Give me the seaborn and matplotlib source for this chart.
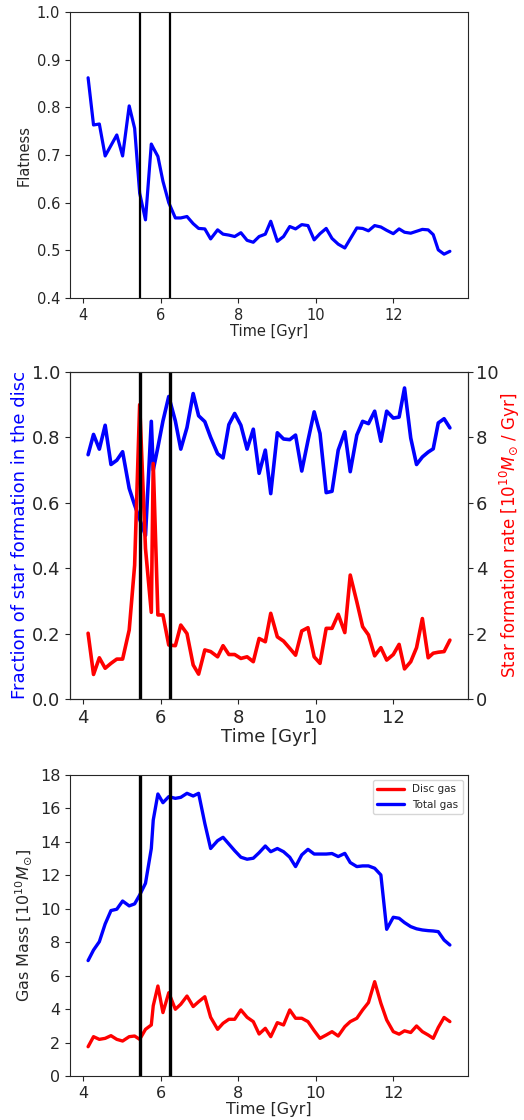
import numpy as np
import pandas as pd
import matplotlib
matplotlib.use("Agg")
import matplotlib.pyplot as plt
import seaborn as sns

# Zeitachse (Gyr), gemeinsam fuer alle drei Panels
time = [4.13, 4.27, 4.42, 4.57, 4.72, 4.87, 5.02, 5.19, 5.33, 5.46, 5.61, 5.76, 5.81,
        5.93, 6.06, 6.21, 6.38, 6.52, 6.68, 6.84, 6.98, 7.14, 7.29, 7.47, 7.61, 7.76,
        7.91, 8.07, 8.23, 8.39, 8.54, 8.70, 8.84, 9.01, 9.17, 9.33, 9.48, 9.64, 9.80,
        9.96, 10.11, 10.27, 10.42, 10.58, 10.75, 10.89, 11.06, 11.21, 11.36, 11.52,
        11.68, 11.83, 12.00, 12.15, 12.29, 12.45, 12.60, 12.75, 12.90, 13.03, 13.16,
        13.31, 13.46]

flatness = [0.862, 0.763, 0.765, 0.698, 0.72, 0.742, 0.698, 0.803, 0.756, 0.62, 0.564,
            0.723, 0.715, 0.697, 0.645, 0.60, 0.568, 0.568, 0.571, 0.556, 0.546, 0.545,
            0.524, 0.543, 0.534, 0.532, 0.529, 0.537, 0.521, 0.517, 0.529, 0.534, 0.561,
            0.519, 0.529, 0.55, 0.545, 0.554, 0.552, 0.522, 0.535, 0.546, 0.525, 0.513,
            0.505, 0.524, 0.547, 0.546, 0.541, 0.552, 0.549, 0.542, 0.535, 0.545, 0.538,
            0.536, 0.54, 0.544, 0.543, 0.533, 0.501, 0.492, 0.498]

sf_fraction = [0.747, 0.809, 0.764, 0.837, 0.717, 0.73, 0.756, 0.644, 0.593, 0.55, 0.50,
               0.849, 0.70, 0.77, 0.85, 0.925, 0.85, 0.764, 0.83, 0.934, 0.866, 0.848,
               0.80, 0.75, 0.737, 0.839, 0.873, 0.837, 0.764, 0.825, 0.69, 0.761, 0.628,
               0.814, 0.795, 0.793, 0.807, 0.697, 0.79, 0.878, 0.812, 0.631, 0.635, 0.761,
               0.817, 0.695, 0.807, 0.849, 0.842, 0.88, 0.788, 0.88, 0.859, 0.862, 0.951,
               0.798, 0.717, 0.74, 0.755, 0.765, 0.844, 0.857, 0.829]

sfr = [2.01, 0.75, 1.26, 0.94, 1.09, 1.22, 1.22, 2.11, 4.09, 9.0, 4.6, 2.65, 7.2, 2.57,
       2.57, 1.65, 1.63, 2.26, 2.0, 1.04, 0.76, 1.5, 1.45, 1.29, 1.63, 1.36, 1.36, 1.24,
       1.29, 1.14, 1.85, 1.75, 2.62, 1.9, 1.77, 1.55, 1.34, 2.08, 2.18, 1.29, 1.09, 2.16,
       2.16, 2.59, 2.03, 3.79, 2.97, 2.21, 1.96, 1.32, 1.57, 1.19, 1.36, 1.67, 0.92, 1.14,
       1.57, 2.46, 1.26, 1.40, 1.43, 1.45, 1.8]

disc_gas = [1.75, 2.35, 2.19, 2.25, 2.41, 2.19, 2.09, 2.35, 2.39, 2.19, 2.79, 3.05, 4.2,
            5.38, 3.79, 4.98, 3.99, 4.29, 4.78, 4.15, 4.44, 4.74, 3.51, 2.79, 3.15, 3.39,
            3.39, 3.95, 3.51, 3.25, 2.51, 2.85, 2.35, 3.19, 3.05, 3.95, 3.45, 3.45, 3.25,
            2.71, 2.25, 2.45, 2.65, 2.39, 2.95, 3.25, 3.45, 3.95, 4.39, 5.64, 4.35, 3.35,
            2.65, 2.5, 2.7, 2.6, 2.99, 2.65, 2.45, 2.25, 2.9, 3.5, 3.25]

total_gas = [6.9, 7.53, 8.03, 9.09, 9.89, 9.97, 10.46, 10.17, 10.29, 10.82, 11.52, 13.6,
             15.3, 16.86, 16.34, 16.7, 16.6, 16.66, 16.9, 16.74, 16.9, 15.1, 13.6, 14.07,
             14.27, 13.87, 13.47, 13.08, 12.96, 13.02, 13.35, 13.75, 13.41, 13.6, 13.41,
             13.08, 12.52, 13.22, 13.55, 13.27, 13.27, 13.27, 13.3, 13.12, 13.31, 12.76,
             12.52, 12.56, 12.56, 12.42, 12.02, 8.77, 9.49, 9.43, 9.17, 8.93, 8.8, 8.73,
             8.69, 8.67, 8.63, 8.13, 7.83]

# Zeitpunkte der beiden Ereignisse (senkrechte Linien)
events = [5.46, 6.23]

df = pd.DataFrame({
    "time": time, "flatness": flatness, "sf_fraction": sf_fraction, "sfr": sfr,
    "disc_gas": disc_gas, "total_gas": total_gas,
})

sns.set_style("ticks")
plt.rcParams["font.family"] = ["DejaVu Sans"]
plt.rcParams["mathtext.fontset"] = "dejavusans"

fig = plt.figure(figsize=(5.24, 11.2), dpi=100)
ax1 = fig.add_axes([0.1336, 0.7339, 0.7595, 0.2554])
ax2 = fig.add_axes([0.1336, 0.3759, 0.7595, 0.2920])
ax3 = fig.add_axes([0.1336, 0.0393, 0.7595, 0.2688])

# --- Panel 1: Flatness ---
sns.lineplot(data=df, x="time", y="flatness", color="blue", linewidth=2.3, ax=ax1)
for t in events:
    ax1.axvline(t, color="black", linewidth=1.6)
ax1.set_ylim(0.4, 1.0)
ax1.set_xticks([4, 6, 8, 10, 12])
ax1.set_xlabel("Time [Gyr]", fontsize=10.5, labelpad=1)
ax1.set_ylabel("Flatness", fontsize=10.5)
ax1.tick_params(labelsize=10.5)

# --- Panel 2: Anteil Sternentstehung + SFR ---
sns.lineplot(data=df, x="time", y="sf_fraction", color="blue", linewidth=2.6, ax=ax2)
ax2b = ax2.twinx()
sns.lineplot(data=df, x="time", y="sfr", color="red", linewidth=2.6, ax=ax2b)
for t in events:
    ax2b.axvline(t, color="black", linewidth=2.4)
ax2.set_ylim(0, 1.0)
ax2b.set_ylim(0, 10)
ax2.set_xticks([4, 6, 8, 10, 12])
ax2.set_xlabel("Time [Gyr]", fontsize=13, labelpad=1)
ax2.set_ylabel("Fraction of star formation in the disc", fontsize=13, color="blue", labelpad=2)
ax2b.set_ylabel(r"Star formation rate [$10^{10} M_{\odot}$ / Gyr]", fontsize=12, color="red", labelpad=0)
ax2.tick_params(labelsize=13)
ax2b.tick_params(labelsize=13, pad=2)

# --- Panel 3: Gasmasse ---
sns.lineplot(data=df, x="time", y="disc_gas", color="red", linewidth=2.4, ax=ax3, label="Disc gas")
sns.lineplot(data=df, x="time", y="total_gas", color="blue", linewidth=2.4, ax=ax3, label="Total gas")
for t in events:
    ax3.axvline(t, color="black", linewidth=2.4)
ax3.set_ylim(0, 18)
ax3.set_yticks(range(0, 19, 2))
ax3.set_xticks([4, 6, 8, 10, 12])
ax3.set_xlabel("Time [Gyr]", fontsize=11.5, labelpad=1)
ax3.set_ylabel(r"Gas Mass [$10^{10} M_{\odot}$]", fontsize=11.5)
ax3.tick_params(labelsize=11.5)
ax3.legend(loc="upper right", fontsize=7.5, frameon=True, handlelength=2.6)

fig.savefig("out.png", dpi=100)
